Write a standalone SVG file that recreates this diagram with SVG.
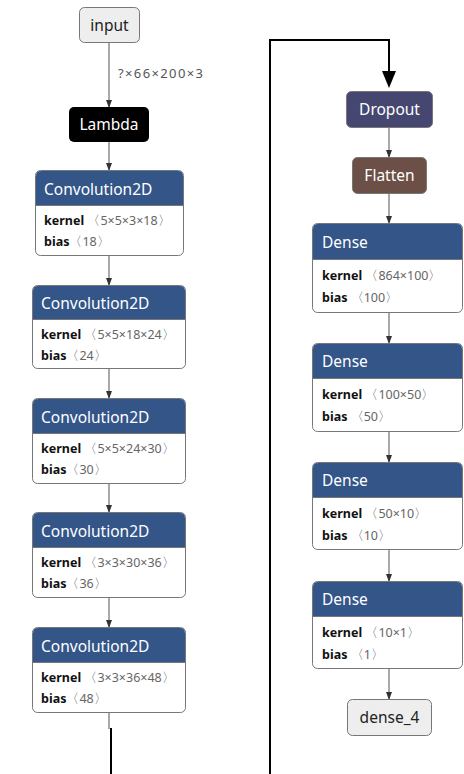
<svg xmlns="http://www.w3.org/2000/svg" width="464" height="774" viewBox="0 0 464 774">
<defs>
<style>
text{font-family:"Noto Sans","DejaVu Sans",sans-serif;}
.io{fill:#eeeeee;stroke:#777;stroke-width:1;}
.border{fill:#fff;stroke:#777;stroke-width:1;}
.hdr{fill:#335588;}
.t{font-size:15.5px;fill:#fff;}
.tio{font-size:15.5px;fill:#222;}
.k{font-size:12.5px;font-weight:bold;fill:#111;}
.v{font-size:12.5px;fill:#666;}
.e{stroke:#555;stroke-width:1;fill:none;}
.big{stroke:#000;stroke-width:2;fill:none;}
</style>
<marker id="ah" markerWidth="8" markerHeight="6" refX="7" refY="3" orient="auto" markerUnits="userSpaceOnUse">
<path d="M0,0 L8,3 L0,6 Z" fill="#333"/>
</marker>
</defs>
<g id="connectors">
<line class="e" x1="109" y1="42" x2="109" y2="107" marker-end="url(#ah)"/>
<text x="118" y="78" textLength="85" style="font-size:13px;fill:#555">?×66×200×3</text>
<line class="e" x1="109" y1="142" x2="109" y2="170" marker-end="url(#ah)"/>
<line class="e" x1="109" y1="255" x2="109" y2="285" marker-end="url(#ah)"/>
<line class="e" x1="109" y1="368" x2="109" y2="398" marker-end="url(#ah)"/>
<line class="e" x1="109" y1="483" x2="109" y2="512" marker-end="url(#ah)"/>
<line class="e" x1="109" y1="597" x2="109" y2="627" marker-end="url(#ah)"/>
<line class="e" x1="109" y1="712" x2="109" y2="729"/>
<line class="big" x1="111" y1="728" x2="111" y2="774"/>
<polyline class="big" points="270,774 270,40 389,40 389,72"/>
<path d="M382,71 L396,71 L389,88 Z" fill="#000"/>
<line class="e" x1="389" y1="127" x2="389" y2="157" marker-end="url(#ah)"/>
<line class="e" x1="389" y1="193" x2="389" y2="223" marker-end="url(#ah)"/>
<line class="e" x1="389" y1="312" x2="389" y2="343" marker-end="url(#ah)"/>
<line class="e" x1="389" y1="431" x2="389" y2="462" marker-end="url(#ah)"/>
<line class="e" x1="389" y1="549" x2="389" y2="581" marker-end="url(#ah)"/>
<line class="e" x1="389" y1="668" x2="389" y2="699" marker-end="url(#ah)"/>
</g>
<g id="input">
<rect class="io" x="79.5" y="7.5" width="60" height="35" rx="5"/>
<text class="tio" x="109.5" y="31" text-anchor="middle">input</text>
</g>
<g id="lambda">
<rect x="69" y="107" width="80" height="35" rx="5" fill="#000"/>
<text class="t" x="109" y="130" text-anchor="middle">Lambda</text>
</g>
<g id="conv1">
<rect class="border" x="35.5" y="170.5" width="148" height="85" rx="5"/>
<path class="hdr" d="M36,205 V176 Q36,171 41,171 H178 Q183,171 183,176 V205 Z"/>
<line x1="36" y1="205.5" x2="183" y2="205.5" stroke="#777"/>
<text class="t" x="44" y="195">Convolution2D</text>
<text x="44" y="225"><tspan class="k">kernel</tspan><tspan class="v"> 〈5×5×3×18〉</tspan></text>
<text x="44" y="246"><tspan class="k">bias</tspan><tspan class="v">〈18〉</tspan></text>
</g>
<g id="conv2">
<rect class="border" x="32.5" y="285.5" width="153" height="83" rx="5"/>
<path class="hdr" d="M33,319 V291 Q33,286 38,286 H180 Q185,286 185,291 V319 Z"/>
<line x1="33" y1="319.5" x2="185" y2="319.5" stroke="#777"/>
<text class="t" x="41" y="309">Convolution2D</text>
<text x="41" y="339"><tspan class="k">kernel</tspan><tspan class="v"> 〈5×5×18×24〉</tspan></text>
<text x="41" y="360"><tspan class="k">bias</tspan><tspan class="v">〈24〉</tspan></text>
</g>
<g id="conv3">
<rect class="border" x="32.5" y="398.5" width="153" height="85" rx="5"/>
<path class="hdr" d="M33,433 V404 Q33,399 38,399 H180 Q185,399 185,404 V433 Z"/>
<line x1="33" y1="433.5" x2="185" y2="433.5" stroke="#777"/>
<text class="t" x="41" y="423">Convolution2D</text>
<text x="41" y="453"><tspan class="k">kernel</tspan><tspan class="v"> 〈5×5×24×30〉</tspan></text>
<text x="41" y="474"><tspan class="k">bias</tspan><tspan class="v">〈30〉</tspan></text>
</g>
<g id="conv4">
<rect class="border" x="32.5" y="512.5" width="153" height="85" rx="5"/>
<path class="hdr" d="M33,547 V518 Q33,513 38,513 H180 Q185,513 185,518 V547 Z"/>
<line x1="33" y1="547.5" x2="185" y2="547.5" stroke="#777"/>
<text class="t" x="41" y="537">Convolution2D</text>
<text x="41" y="567"><tspan class="k">kernel</tspan><tspan class="v"> 〈3×3×30×36〉</tspan></text>
<text x="41" y="588"><tspan class="k">bias</tspan><tspan class="v">〈36〉</tspan></text>
</g>
<g id="conv5">
<rect class="border" x="32.5" y="627.5" width="153" height="85" rx="5"/>
<path class="hdr" d="M33,662 V633 Q33,628 38,628 H180 Q185,628 185,633 V662 Z"/>
<line x1="33" y1="662.5" x2="185" y2="662.5" stroke="#777"/>
<text class="t" x="41" y="652">Convolution2D</text>
<text x="41" y="682"><tspan class="k">kernel</tspan><tspan class="v"> 〈3×3×36×48〉</tspan></text>
<text x="41" y="703"><tspan class="k">bias</tspan><tspan class="v">〈48〉</tspan></text>
</g>
<g id="dropout">
<rect x="346.5" y="91.5" width="86" height="36" rx="5" fill="#454770" stroke="#777"/>
<text class="t" x="389.5" y="115" text-anchor="middle">Dropout</text>
</g>
<g id="flatten">
<rect x="352.5" y="157.5" width="74" height="36" rx="5" fill="#6c4f47" stroke="#777"/>
<text class="t" x="389.5" y="181" text-anchor="middle">Flatten</text>
</g>
<g id="dense1">
<rect class="border" x="312.5" y="223.5" width="150" height="89" rx="5"/>
<path class="hdr" d="M313,259 V229 Q313,224 318,224 H457 Q462,224 462,229 V259 Z"/>
<line x1="313" y1="259.5" x2="462" y2="259.5" stroke="#777"/>
<text class="t" x="322" y="248">Dense</text>
<text x="322" y="280"><tspan class="k">kernel</tspan><tspan class="v"> 〈864×100〉</tspan></text>
<text x="322" y="302"><tspan class="k">bias</tspan><tspan class="v"> 〈100〉</tspan></text>
</g>
<g id="dense2">
<rect class="border" x="312.5" y="343.5" width="150" height="88" rx="5"/>
<path class="hdr" d="M313,378 V349 Q313,344 318,344 H457 Q462,344 462,349 V378 Z"/>
<line x1="313" y1="378.5" x2="462" y2="378.5" stroke="#777"/>
<text class="t" x="322" y="367">Dense</text>
<text x="322" y="399"><tspan class="k">kernel</tspan><tspan class="v"> 〈100×50〉</tspan></text>
<text x="322" y="421"><tspan class="k">bias</tspan><tspan class="v"> 〈50〉</tspan></text>
</g>
<g id="dense3">
<rect class="border" x="312.5" y="462.5" width="150" height="87" rx="5"/>
<path class="hdr" d="M313,497 V468 Q313,463 318,463 H457 Q462,463 462,468 V497 Z"/>
<line x1="313" y1="497.5" x2="462" y2="497.5" stroke="#777"/>
<text class="t" x="322" y="486">Dense</text>
<text x="322" y="518"><tspan class="k">kernel</tspan><tspan class="v"> 〈50×10〉</tspan></text>
<text x="322" y="540"><tspan class="k">bias</tspan><tspan class="v"> 〈10〉</tspan></text>
</g>
<g id="dense4">
<rect class="border" x="312.5" y="581.5" width="150" height="87" rx="5"/>
<path class="hdr" d="M313,616 V587 Q313,582 318,582 H457 Q462,582 462,587 V616 Z"/>
<line x1="313" y1="616.5" x2="462" y2="616.5" stroke="#777"/>
<text class="t" x="322" y="605">Dense</text>
<text x="322" y="637"><tspan class="k">kernel</tspan><tspan class="v"> 〈10×1〉</tspan></text>
<text x="322" y="659"><tspan class="k">bias</tspan><tspan class="v"> 〈1〉</tspan></text>
</g>
<g id="dense_4">
<rect class="io" x="347.5" y="699.5" width="84" height="36" rx="5"/>
<text class="tio" x="389.5" y="723" text-anchor="middle">dense_4</text>
</g>
</svg>
